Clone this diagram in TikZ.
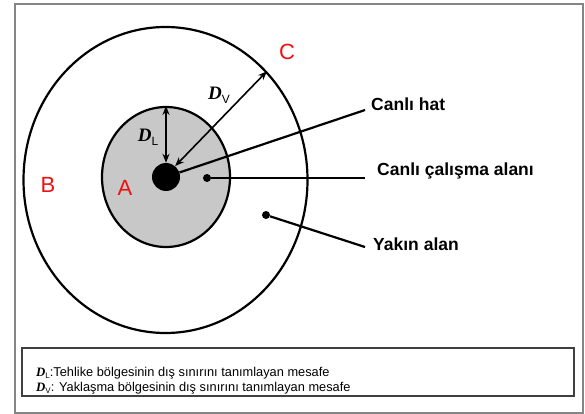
\documentclass[tikz,border=0pt]{standalone}
\usepackage{fontspec}
\setmainfont{Liberation Sans}
\newfontfamily\timesf{Liberation Serif}
\usetikzlibrary{shapes.geometric,arrows.meta}
\definecolor{zonegray}{HTML}{C8C8C8}
\definecolor{framegray}{HTML}{858585}
\definecolor{boxgray}{HTML}{404040}
\definecolor{zonered}{HTML}{F01010}
\begin{document}
\begin{tikzpicture}[x=1pt,y=-1pt]
\tikzset{
 zone/.style={ellipse, draw=black, line width=2.2pt, inner sep=0pt},
 zonelabel/.style={text=zonered, font=\fontsize{22}{22}\selectfont, inner sep=0pt},
 callout/.style={font=\bfseries\fontsize{17.5}{17.5}\selectfont, anchor=west, inner sep=0pt},
 leader/.style={line width=2.2pt, black},
 dimarrow/.style={line width=1.6pt, {Stealth[length=9pt,width=7pt]}-{Stealth[length=9pt,width=7pt]}},
 spot/.style={circle, fill=black, inner sep=0pt, minimum size=8pt},
 dimlabel/.style={inner sep=0pt},
 legendtext/.style={anchor=west, inner sep=0pt, font=\fontsize{12.8}{12.8}\selectfont},
}
\useasboundingbox (0,0) rectangle (585,414);
\draw[framegray, line width=2pt] (15,4) rectangle (583,413);
\draw[boxgray, line width=1.8pt] (22,348) rectangle (574,396);

\node[zone, minimum width=284pt, minimum height=306pt] (outer) at (165.5,180) {};
\node[zone, fill=zonegray, minimum width=128pt, minimum height=140pt] (inner) at (166,177) {};
\node[circle, fill=black, inner sep=0pt, minimum size=28pt] (live) at (166,177) {};

\node[spot] (work) at (207,178) {};
\node[spot] (near) at (266,215) {};

\draw[dimarrow] (live.north) -- (inner.north);
\draw[dimarrow] (live.50) -- (outer.47.5);

\node[dimlabel] (dl) at (148,137) {{\timesf\bfseries\itshape\fontsize{19}{19}\selectfont D}\raisebox{-4pt}{\fontsize{12}{12}\selectfont L}};
\node[dimlabel] (dv) at (219,95) {{\timesf\bfseries\itshape\fontsize{19}{19}\selectfont D}\raisebox{-4pt}{\fontsize{12}{12}\selectfont V}};

\node[zonelabel] (za) at (125,188) {A};
\node[zonelabel] (zb) at (48,185) {B};
\node[zonelabel] (zc) at (287,52) {C};

\coordinate (hatend) at (365,110);
\coordinate (workend) at (365,178);
\coordinate (nearend) at (365,247);
\draw[leader] (live) -- (hatend);
\draw[leader] (work) -- (workend);
\draw[leader] (near) -- (nearend);

\node[callout] (hatlbl) at (371,104) {Canlı hat};
\node[callout] (worklbl) at (377,171) {Canlı çalışma alanı};
\node[callout] (nearlbl) at (373,244) {Yakın alan};

\node[legendtext] (leg1) at (36,373) {{\timesf\bfseries\itshape D}\raisebox{-2pt}{\fontsize{8}{8}\selectfont L}:Tehlike bölgesinin dış sınırını tanımlayan mesafe};
\node[legendtext] (leg2) at (36,388) {{\timesf\bfseries\itshape D}\raisebox{-2pt}{\fontsize{8}{8}\selectfont V}: Yaklaşma bölgesinin dış sınırını tanımlayan mesafe};
\end{tikzpicture}
\end{document}
